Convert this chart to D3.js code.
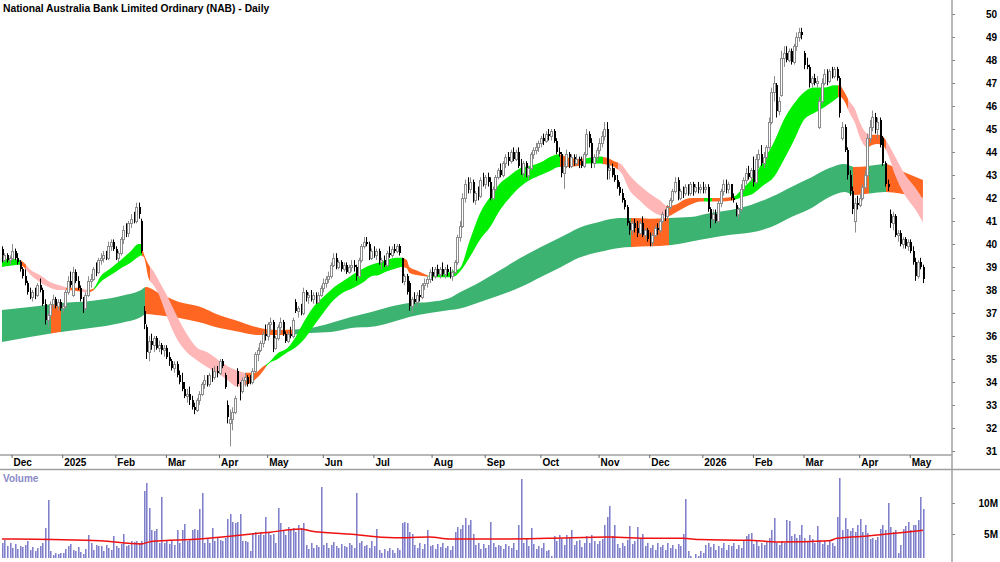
<!DOCTYPE html>
<meta charset="utf-8">
<script src="https://d3js.org/d3.v7.min.js"></script>
<style>
  body { margin: 0; background: #fff; }
  text { font-family: "Liberation Sans", Arial, sans-serif; font-weight: bold; }
</style>
<div id="chart"></div>
<script>
// ---- trading calendar (ASX sessions) ----
const firstDay = "2024-11-26", lastDay = "2026-05-08";
const holidays = ["2024-12-25", "2024-12-26", "2025-01-01", "2025-01-27", "2025-04-18", "2025-04-21",
  "2025-04-25", "2025-06-09", "2025-12-25", "2025-12-26", "2026-01-01", "2026-01-26", "2026-04-03", "2026-04-06"];

// ---- daily candles per month: [open, high, low, close, volume (millions)] ----
const nov2024 = [[39.8,39.9,39.2,39.3,3.5],[39.3,39.6,39.2,39.5,4.0],[39.5,39.6,39.2,39.3,3.0],[39.3,39.5,39.1,39.4,3.6]];
const dec2024 = [[39.4,40.0,39.3,39.7,2.8],[39.7,39.8,39.3,39.4,3.4],[39.4,39.6,39.1,39.2,2.6],[39.2,39.3,38.8,38.9,3.1],
  [38.9,39.0,38.5,38.6,2.9],[38.6,38.9,38.2,38.3,3.2],[38.3,38.4,37.8,37.9,3.8],[37.9,38.1,37.6,37.7,2.4],
  [37.7,38.0,37.5,37.9,2.9],[37.9,38.1,37.6,37.8,2.2],[37.8,38.3,37.7,38.2,2.7],[38.2,38.5,37.9,38.0,3.0],
  [38.0,38.1,37.3,37.4,3.5],[37.4,37.6,36.5,36.7,6.0],[36.7,37.0,36.4,36.9,10.5],[36.9,37.5,36.8,37.4,2.2],
  [37.4,37.8,37.2,37.6,1.6],[37.6,37.7,37.2,37.3,1.9],[37.3,37.6,37.1,37.5,1.7],[37.5,37.6,37.1,37.2,1.9]];
const jan2025 = [[37.2,37.4,37.0,37.3,2.0],[37.3,38.0,37.2,37.9,2.6],[37.9,38.6,37.8,38.4,3.0],[38.4,38.8,38.1,38.2,3.4],
  [37.8,39.0,37.7,38.8,2.5],[38.8,38.9,38.3,38.4,2.2],[38.4,38.6,38.0,38.1,2.9],[38.1,38.2,37.5,37.6,2.1],
  [37.6,37.7,37.0,37.2,1.8],[37.2,37.9,37.1,37.8,2.6],[37.8,38.6,37.7,38.4,4.8],[38.4,38.7,38.1,38.5,3.6],
  [38.5,39.0,38.4,38.9,2.4],[38.9,39.2,38.6,38.8,3.2],[38.8,39.4,38.7,39.3,3.0],[39.3,39.6,39.1,39.4,3.1],
  [39.4,39.7,39.2,39.5,2.2],[39.5,39.7,39.3,39.4,3.3],[39.4,40.1,39.3,39.9,2.8],[39.9,40.2,39.7,40.1,2.5],
  [40.1,40.2,39.7,39.8,4.6]];
const feb2025 = [[39.8,39.9,39.3,39.4,3.0],[39.4,39.7,39.2,39.6,2.7],[39.6,40.3,39.5,40.2,3.4],[40.2,40.8,40.0,40.6,5.0],
  [40.6,40.9,40.3,40.5,3.0],[40.5,41.0,40.3,40.9,3.3],[40.9,41.3,40.7,41.1,3.9],[41.1,41.4,40.9,41.0,3.7],
  [41.0,41.8,40.9,41.6,3.8],[41.6,41.8,41.1,41.3,3.5],[41.0,41.1,39.6,39.7,3.9],[37.1,37.3,36.3,36.5,12.0],
  [36.4,36.5,35.0,35.3,13.2],[35.3,36.0,34.9,35.8,9.2],[35.8,36.1,35.4,35.6,5.6],[35.6,36.0,35.3,35.9,5.5],
  [35.9,36.0,35.4,35.5,5.8],[35.5,35.8,35.3,35.6,3.5],[35.6,35.7,35.2,35.4,11.0],[35.4,35.6,35.1,35.5,3.6]];
const mar2025 = [[35.5,35.6,35.0,35.1,3.8],[35.1,35.3,34.7,34.9,3.4],[34.9,35.0,34.5,34.6,4.0],[34.6,34.9,34.4,34.8,3.2],
  [34.8,34.9,34.2,34.3,5.6],[34.3,34.5,33.9,34.0,3.6],[34.0,34.4,33.6,33.7,5.6],[33.7,34.0,33.3,33.4,6.6],
  [33.4,33.7,33.1,33.5,3.8],[33.5,33.8,33.0,33.2,4.2],[33.2,33.4,32.8,32.9,5.6],[32.9,33.1,32.6,32.8,5.8],
  [32.8,33.3,32.7,33.2,5.7],[33.2,33.6,33.0,33.5,9.0],[33.5,34.0,33.4,33.9,11.6],[33.9,34.3,33.7,34.1,3.6],
  [34.1,34.3,33.8,33.9,4.2],[33.9,34.4,33.8,34.3,3.5],[34.3,34.6,34.0,34.2,5.9],[34.2,34.7,34.1,34.5,3.9],
  [34.5,34.7,34.2,34.4,4.3]];
const apr2025 = [[34.4,35.0,34.3,34.9,4.0],[34.9,35.0,34.6,34.7,3.8],[34.3,34.4,33.7,33.8,4.4],[33.0,33.2,32.2,32.5,7.4],
  [32.2,32.8,31.2,32.4,8.3],[32.4,32.9,31.9,32.7,6.9],[32.7,33.4,32.6,33.3,6.7],[34.5,34.6,33.8,33.9,7.0],
  [33.9,34.0,33.2,33.6,8.2],[33.6,34.2,33.5,34.1,3.8],[34.1,34.4,33.8,34.2,3.9],[34.2,34.3,33.8,33.9,3.7],
  [34.2,34.3,33.9,34.0,2.2],[34.0,34.6,33.9,34.5,5.2],[34.5,35.3,34.4,35.2,5.3],[35.2,35.5,34.9,35.4,4.9],
  [35.4,35.8,35.3,35.7,5.3],[35.7,36.2,35.5,36.1,4.8],[36.1,36.5,35.8,36.0,7.7]];
const may2025 = [[36.0,36.6,35.8,36.5,5.2],[36.5,36.8,36.2,36.6,4.8],[36.6,36.7,35.3,35.5,5.0],[35.5,36.0,35.4,35.9,3.6],
  [35.9,36.5,35.8,36.4,9.2],[36.4,36.8,36.1,36.6,6.7],[36.6,36.7,36.0,36.1,5.5],[36.1,36.2,35.7,35.8,4.8],
  [35.8,36.2,35.7,36.1,6.2],[36.1,36.4,35.9,36.0,5.6],[36.0,36.8,35.9,36.7,6.0],[37.5,37.6,37.0,37.1,5.4],
  [37.1,37.3,36.8,37.2,6.4],[37.2,37.4,36.9,37.0,5.9],[37.0,38.1,36.9,37.9,6.8],[37.9,38.0,37.5,37.7,3.2],
  [37.7,37.9,37.4,37.8,2.6],[37.8,38.0,37.5,37.6,3.5],[37.6,37.9,37.4,37.8,2.8],[37.8,37.9,37.4,37.5,3.3],
  [37.5,37.9,37.4,37.8,2.9],[37.8,38.2,37.7,38.1,12.6]];
const jun2025 = [[38.1,38.5,37.9,38.3,3.2],[38.3,38.6,38.1,38.5,3.6],[38.5,38.8,38.3,38.6,2.8],[38.6,39.2,38.5,39.1,3.3],
  [39.1,39.6,39.0,39.4,3.7],[39.4,39.6,38.9,39.0,3.0],[39.0,39.3,38.9,39.2,2.7],[39.2,39.3,38.8,38.9,3.4],
  [38.9,39.2,38.8,39.1,3.1],[39.1,39.2,38.7,38.8,2.9],[38.8,39.1,38.7,39.0,3.6],[39.0,39.3,38.8,39.1,3.2],
  [39.1,39.3,38.8,39.0,2.8],[39.0,39.1,38.4,38.6,11.6],[38.6,39.4,38.5,39.3,3.5],[39.3,40.0,39.2,39.9,3.9],
  [39.9,40.3,39.8,40.1,3.0],[40.1,40.3,39.9,40.0,3.3],[40.0,40.1,39.3,39.4,2.7],[39.4,39.8,39.3,39.7,3.8]];
const jul2025 = [[39.7,39.9,39.4,39.5,3.1],[39.5,39.8,39.3,39.7,5.8],[39.7,39.8,39.1,39.2,2.4],[39.2,39.4,38.9,39.3,1.9],
  [39.3,39.5,39.0,39.1,2.6],[39.1,39.7,39.0,39.6,2.2],[39.6,39.9,39.4,39.5,2.8],[39.5,39.9,39.4,39.8,2.5],
  [39.8,40.0,39.6,39.7,2.0],[39.7,40.0,39.6,39.9,2.7],[39.9,40.0,39.5,39.6,2.4],[39.4,39.4,38.3,38.4,6.8],
  [38.4,38.7,38.2,38.6,6.9],[38.6,38.7,37.8,37.9,6.7],[38.3,38.4,37.1,37.3,5.4],[37.3,37.7,37.0,37.6,5.0],
  [37.6,37.9,37.4,37.5,3.2],[37.5,37.9,37.3,37.8,2.8],[37.8,38.0,37.5,37.7,3.5],[37.7,38.3,37.6,38.2,2.6],
  [38.2,38.5,38.0,38.3,3.4],[38.3,38.6,38.1,38.5,5.6],[38.5,38.9,38.3,38.8,3.0]];
const aug2025 = [[38.8,39.0,38.4,38.6,3.3],[38.6,39.0,38.5,38.9,2.6],[38.9,39.1,38.6,38.7,3.4],[38.7,39.0,38.5,38.9,2.9],
  [38.9,39.2,38.6,38.7,3.6],[38.7,39.0,38.5,38.9,2.7],[38.9,39.1,38.6,38.8,3.1],[38.8,39.0,38.5,38.6,2.5],
  [38.6,38.9,38.4,38.8,3.0],[38.8,39.3,38.7,39.2,5.3],[39.2,40.4,39.1,40.3,6.2],[40.3,41.0,40.1,40.8,5.8],
  [40.8,42.2,40.7,42.0,6.5],[42.0,42.8,41.8,42.6,7.6],[42.6,42.9,42.2,42.4,6.4],[42.4,42.9,42.2,42.7,7.3],
  [42.7,42.8,41.8,41.9,5.0],[41.9,42.3,41.7,42.2,3.2],[42.2,42.5,41.9,42.1,3.6],[42.1,42.9,42.0,42.8,2.6],
  [42.8,43.1,42.5,42.6,3.4]];
const sep2025 = [[42.6,43.0,42.4,42.9,2.8],[42.9,43.1,42.5,42.7,3.3],[42.7,42.9,41.9,42.0,7.0],[42.0,42.5,41.9,42.4,3.6],
  [42.4,43.0,42.3,42.9,2.9],[42.9,43.3,42.8,43.2,3.2],[43.2,43.5,42.9,43.0,3.0],[43.0,43.6,42.9,43.5,2.6],
  [43.5,43.9,43.3,43.8,3.4],[43.8,44.0,43.4,43.6,3.1],[43.6,44.1,43.5,44.0,2.7],[44.0,44.2,43.6,43.7,3.5],
  [43.7,44.1,43.6,44.0,2.4],[44.0,44.2,43.3,43.4,6.4],[43.4,43.7,43.0,43.1,13.8],[43.1,43.6,42.9,43.5,3.6],
  [43.5,43.6,42.9,43.0,4.2],[43.0,43.4,42.8,43.3,3.0],[43.3,44.0,43.2,43.9,5.9],[43.9,44.2,43.7,44.1,3.4],
  [44.1,44.4,43.9,44.2,2.6],[44.2,44.5,44.0,44.4,3.1]];
const oct2025 = [[44.4,44.7,44.2,44.6,2.8],[44.6,44.8,44.3,44.5,3.6],[44.5,44.9,44.4,44.8,2.2],[44.8,45.0,44.5,44.7,2.5],
  [44.7,45.0,44.5,44.9,1.5],[44.9,45.0,44.4,44.5,4.7],[44.5,44.6,43.9,44.0,3.9],[44.0,44.2,43.8,43.9,4.9],
  [43.9,44.0,42.9,43.1,4.2],[43.1,43.6,42.4,43.4,3.3],[43.4,44.1,43.3,43.9,4.8],[43.9,44.0,43.3,43.4,4.4],
  [43.4,43.9,43.3,43.8,5.7],[43.8,43.9,43.4,43.5,3.3],[43.5,43.9,43.4,43.7,3.8],[43.7,43.8,43.3,43.6,4.0],
  [43.6,43.8,43.3,43.4,2.9],[43.4,44.0,43.3,43.9,3.6],[43.9,45.0,43.8,44.8,4.7],[44.8,44.9,44.2,44.4,3.5],
  [44.4,44.6,43.3,43.5,4.8],[43.5,43.9,43.3,43.8,3.9],[43.8,44.2,43.6,44.1,3.4]];
const nov2025 = [[44.1,44.6,43.9,44.4,3.8],[44.4,44.9,44.2,44.7,4.2],[44.7,45.3,44.5,45.0,6.5],[45.0,45.3,42.8,43.2,7.8],
  [43.2,43.5,42.8,43.3,9.5],[43.3,43.5,42.9,43.0,4.6],[43.0,43.3,42.7,42.8,6.4],[42.8,43.0,42.4,42.5,3.4],
  [42.5,42.7,42.1,42.2,2.8],[42.2,42.4,41.8,41.9,3.6],[41.9,42.0,41.5,41.6,3.0],[41.6,41.7,40.8,40.9,4.0],
  [40.9,41.0,40.4,40.6,6.3],[40.6,41.0,40.4,40.9,3.4],[40.9,41.1,40.5,40.7,3.9],[40.7,41.0,40.3,40.5,6.1],
  [40.5,41.0,40.4,40.9,4.3],[40.9,41.2,40.3,40.4,5.0],[40.4,40.7,40.2,40.6,3.1],[40.6,40.7,40.1,40.2,3.5]];
const dec2025 = [[40.2,40.5,39.9,40.1,2.7],[40.1,40.5,39.9,40.4,3.3],[40.4,40.8,40.3,40.7,2.5],[40.7,40.9,40.4,40.6,3.5],
  [40.6,41.1,40.5,41.0,2.9],[41.0,41.4,40.9,41.3,3.2],[41.3,41.5,41.0,41.2,2.4],[41.2,41.7,41.1,41.6,3.6],
  [41.6,42.0,41.5,41.9,2.8],[41.9,42.4,41.8,42.3,3.3],[42.3,42.9,42.2,42.7,2.6],[42.8,42.9,41.9,42.0,3.4],
  [42.0,42.4,41.9,42.3,3.0],[42.3,42.5,42.0,42.2,5.0],[42.2,42.6,42.1,42.5,10.7],[42.5,42.6,42.1,42.2,2.2],
  [42.2,42.7,42.1,42.6,1.4],[42.6,42.7,42.1,42.3,1.2],[42.3,42.6,42.2,42.5,1.8],[42.5,42.7,42.2,42.4,1.5],
  [42.4,42.6,42.2,42.5,2.3]];
const jan2026 = [[42.5,42.7,42.2,42.4,2.0],[42.4,42.6,42.2,42.5,3.3],[42.5,42.6,41.4,41.5,3.6],[41.5,41.6,40.7,41.1,2.9],
  [41.1,41.5,40.9,41.3,3.4],[41.3,41.5,40.9,41.0,2.5],[41.0,41.9,40.9,41.8,3.1],[41.8,42.4,41.6,42.3,2.7],
  [42.3,42.8,42.1,42.6,3.5],[42.6,42.8,42.2,42.4,2.4],[42.4,42.7,42.2,42.6,3.2],[42.6,42.6,41.9,42.0,3.0],
  [42.0,42.2,41.8,41.9,3.6],[41.7,41.8,41.2,41.3,2.6],[41.3,41.6,41.1,41.5,3.3],[41.5,42.6,41.4,42.4,2.8],
  [42.4,42.9,42.3,42.8,3.9],[42.8,43.3,42.6,43.1,4.7],[43.1,43.4,42.8,42.9,5.0],[42.9,43.3,42.7,43.2,5.2]];
const feb2026 = [[43.2,43.8,42.5,42.7,3.4],[42.7,43.9,42.6,43.7,3.8],[43.7,44.1,43.3,43.9,3.0],[43.9,44.3,43.4,43.5,3.6],
  [43.5,44.0,43.3,43.8,3.2],[43.8,44.3,43.7,44.2,3.9],[44.2,45.5,44.1,45.3,4.4],[45.3,46.8,45.2,46.6,5.7],
  [46.6,47.3,46.2,47.0,7.6],[46.9,47.0,45.5,45.8,3.6],[45.8,46.4,45.6,46.2,3.3],[46.5,48.4,46.4,48.1,3.9],
  [48.1,48.6,47.7,48.3,3.5],[48.3,48.6,47.9,48.0,7.2],[48.0,48.5,47.9,48.4,7.1],[48.4,48.5,47.8,47.9,4.6],
  [47.9,48.7,47.8,48.6,5.0],[48.6,49.2,48.4,49.0,4.3],[49.0,49.4,48.8,49.2,4.8],[49.2,49.4,48.9,49.1,6.5]];
const mar2026 = [[48.3,48.4,47.6,47.8,4.4],[47.8,48.1,47.6,47.7,3.9],[47.7,47.8,46.8,47.0,4.8],[47.0,47.3,46.8,47.2,4.2],
  [47.2,47.4,46.9,47.0,3.6],[47.0,47.3,46.8,47.1,6.3],[45.1,46.4,45.0,46.2,4.0],[46.2,47.2,46.1,47.0,3.4],
  [47.0,47.6,46.9,47.4,3.8],[47.4,47.6,46.9,47.1,3.2],[47.1,47.6,47.0,47.5,4.0],[47.5,47.7,47.2,47.3,3.5],
  [47.3,47.7,47.2,47.6,3.0],[47.6,47.7,47.1,47.2,7.8],[47.2,47.3,45.5,45.7,14.1],[44.6,45.3,44.5,45.1,5.6],
  [45.1,45.2,44.0,44.1,7.6],[44.1,44.2,42.8,43.0,5.8],[43.0,43.2,42.1,42.3,5.5],[42.3,42.5,41.3,41.5,6.0],
  [41.0,42.0,40.5,41.8,5.4],[41.8,42.1,41.5,41.7,6.4]];
const apr2026 = [[41.7,42.2,41.6,42.0,7.5],[42.0,42.6,41.9,42.5,5.3],[42.5,43.2,42.4,43.0,6.4],[43.0,44.8,42.9,44.6,5.1],
  [44.6,45.4,44.4,45.1,4.2],[45.1,45.8,44.9,45.5,4.3],[45.5,45.7,44.8,45.0,4.0],[45.0,45.5,44.6,45.3,4.5],
  [45.4,45.5,44.2,44.3,5.8],[44.6,44.7,43.4,43.5,6.5],[43.5,43.6,42.5,42.6,5.6],[42.6,42.8,42.3,42.5,10.0],
  [41.3,41.5,40.7,40.9,6.2],[40.9,41.4,40.6,41.2,5.4],[41.2,41.3,40.3,40.4,5.7],[40.4,40.6,40.1,40.5,2.0],
  [40.5,40.6,39.9,40.0,3.2],[40.0,40.3,39.8,40.2,5.8],[40.2,40.3,39.8,39.9,6.3],[39.9,40.2,39.7,40.1,7.0]];
const may2026 = [[40.1,40.2,39.6,39.7,5.6],[39.7,39.9,39.1,39.2,6.4],[39.2,39.4,38.4,38.6,6.4],[38.6,39.3,38.5,39.2,7.2],
  [39.2,39.4,38.9,39.0,10.9],[39.0,39.1,38.3,38.5,9.0]];

// ---- short-term moving average ribbon: [date, upper, lower] ----
const shortRibbon = [["2024-11-26",39.35,39.0],["2024-11-29",39.35,39.05],["2024-12-05",39.3,39.1],["2024-12-09",39.15,38.95],
  ["2024-12-11",38.9,38.7],["2024-12-17",38.65,38.35],["2024-12-23",38.35,38.1],["2024-12-31",38.2,38.0],
  ["2025-01-06",38.1,38.0],["2025-01-10",38.1,37.95],["2025-01-16",38.0,37.9],["2025-01-20",38.05,37.98],
  ["2025-01-23",38.6,38.35],["2025-01-30",38.95,38.65],["2025-02-05",39.3,38.95],["2025-02-11",39.7,39.2],
  ["2025-02-14",40.0,39.45],["2025-02-17",40.0,39.5],["2025-02-18",39.6,39.45],["2025-02-20",39.1,38.5],
  ["2025-02-24",38.8,38.2],["2025-02-26",38.4,37.8],["2025-03-03",37.8,36.9],["2025-03-07",36.9,35.9],
  ["2025-03-13",36.1,35.3],["2025-03-19",35.5,34.95],["2025-03-25",35.3,34.65],["2025-03-31",35.0,34.4],
  ["2025-04-04",34.7,34.1],["2025-04-10",34.5,33.8],["2025-04-16",34.4,33.9],["2025-04-23",34.4,34.1],
  ["2025-04-29",34.65,34.45],["2025-05-01",34.8,34.75],["2025-05-07",35.25,35.0],["2025-05-13",35.5,35.3],
  ["2025-05-16",35.95,35.5],["2025-05-21",36.55,35.8],["2025-05-27",37.25,36.4],["2025-06-02",37.7,37.0],
  ["2025-06-06",38.1,37.55],["2025-06-13",38.4,37.9],["2025-06-19",38.7,38.1],["2025-06-25",38.95,38.35],
  ["2025-06-30",39.1,38.6],["2025-07-03",39.2,38.65],["2025-07-08",39.3,38.8],["2025-07-14",39.4,38.95],
  ["2025-07-16",39.4,39.0],["2025-07-18",39.3,38.95],["2025-07-21",39.0,38.75],["2025-07-24",38.85,38.65],
  ["2025-07-29",38.7,38.6],["2025-07-31",38.62,38.58],["2025-08-05",38.7,38.55],["2025-08-11",38.75,38.55],
  ["2025-08-14",38.85,38.6],["2025-08-18",38.95,38.8],["2025-08-22",40.2,39.45],["2025-08-28",41.35,40.2],
  ["2025-09-03",42.05,40.75],["2025-09-09",42.65,41.5],["2025-09-15",43.0,42.05],["2025-09-19",43.3,42.5],
  ["2025-09-25",43.4,42.8],["2025-10-01",43.55,43.0],["2025-10-07",43.8,43.2],["2025-10-10",43.9,43.35],
  ["2025-10-16",43.75,43.35],["2025-10-22",43.7,43.4],["2025-10-28",43.75,43.5],["2025-11-03",43.8,43.5],
  ["2025-11-06",43.75,43.45],["2025-11-11",43.6,43.35],["2025-11-14",43.45,43.05],["2025-11-19",43.0,42.35],
  ["2025-11-25",42.55,41.9],["2025-12-01",42.2,41.5],["2025-12-05",41.9,41.25],["2025-12-10",41.65,41.2],
  ["2025-12-15",41.7,41.35],["2025-12-19",41.95,41.6],["2025-12-24",42.0,41.75],["2025-12-31",42.0,41.85],
  ["2026-01-07",42.0,41.85],["2026-01-14",42.0,41.85],["2026-01-20",42.05,41.9],["2026-01-27",42.45,42.05],
  ["2026-02-02",42.9,42.2],["2026-02-06",43.65,42.55],["2026-02-12",44.4,42.9],["2026-02-18",45.4,43.65],
  ["2026-02-24",46.1,44.5],["2026-03-02",46.6,45.4],["2026-03-06",46.8,45.7],["2026-03-12",46.8,45.95],
  ["2026-03-18",46.9,46.25],["2026-03-20",46.9,46.4],["2026-03-24",46.6,46.2],["2026-03-26",46.2,45.7],
  ["2026-03-30",45.9,45.3],["2026-04-01",45.3,44.65],["2026-04-08",44.8,44.2],["2026-04-10",44.75,44.3],
  ["2026-04-14",44.75,44.35],["2026-04-16",44.7,44.3],["2026-04-20",44.4,43.95],["2026-04-23",43.8,43.0],
  ["2026-04-29",43.0,42.1],["2026-05-05",42.45,41.5],["2026-05-08",41.95,40.95]];

// ---- long-term moving average ribbon: [date, upper, lower] ----
const longRibbon = [["2024-11-26",37.13,35.74],["2024-12-11",37.26,35.96],["2024-12-31",37.43,36.17],["2025-01-17",37.52,36.35],
  ["2025-02-05",37.74,36.57],["2025-02-17",38.0,36.83],["2025-02-19",38.13,36.96],["2025-02-26",37.87,36.9],
  ["2025-03-10",37.48,36.78],["2025-03-20",37.28,36.6],["2025-04-01",36.9,36.35],["2025-04-09",36.7,36.22],
  ["2025-04-28",36.35,36.04],["2025-05-08",36.26,36.04],["2025-05-15",36.28,36.06],["2025-05-26",36.35,36.13],
  ["2025-06-05",36.57,36.17],["2025-06-18",36.83,36.35],["2025-06-30",37.04,36.4],["2025-07-09",37.26,36.57],
  ["2025-07-21",37.43,36.83],["2025-07-31",37.48,37.0],["2025-08-12",37.65,37.13],["2025-08-18",37.9,37.2],
  ["2025-08-28",38.35,37.48],["2025-09-09",38.87,37.78],["2025-09-19",39.4,38.13],["2025-10-01",39.87,38.57],
  ["2025-10-13",40.3,39.0],["2025-10-22",40.7,39.4],["2025-11-03",40.96,39.65],["2025-11-13",41.13,39.83],
  ["2025-11-20",41.13,39.87],["2025-12-01",41.1,39.9],["2025-12-11",41.13,39.95],["2025-12-23",41.17,40.1],
  ["2026-01-07",41.35,40.26],["2026-01-19",41.48,40.4],["2026-01-30",41.7,40.5],["2026-02-11",42.04,40.74],
  ["2026-02-23",42.48,41.17],["2026-03-05",42.9,41.56],["2026-03-16",43.3,42.04],["2026-03-24",43.48,42.26],
  ["2026-03-30",43.35,42.13],["2026-04-09",43.4,42.2],["2026-04-17",43.48,42.26],["2026-04-27",43.2,42.2],
  ["2026-05-08",42.78,42.0]];

// ---- ribbon state changes: [first session, state] ----
const shortStates = [["2024-11-26","up"],["2024-12-06","turn"],["2024-12-10","down"],["2025-01-06","turn"],
  ["2025-01-14","down"],["2025-01-17","turn"],["2025-01-21","up"],["2025-02-18","turn"],["2025-02-21","down"],
  ["2025-04-16","turn"],["2025-05-01","up"],["2025-07-17","turn"],["2025-07-31","up"],["2025-10-13","turn"],
  ["2025-10-24","up"],["2025-11-05","turn"],["2025-11-13","down"],["2025-12-10","turn"],["2026-01-05","up"],
  ["2026-01-08","turn"],["2026-01-21","up"],["2026-03-20","turn"],["2026-03-26","down"],["2026-04-09","turn"],
  ["2026-04-20","down"]];
const longStates = [["2024-11-26","up"],["2024-12-24","down"],["2025-01-02","up"],["2025-02-19","down"],
  ["2025-05-16","up"],["2025-11-20","down"],["2025-12-11","up"],["2026-03-30","down"],["2026-04-09","up"],
  ["2026-04-20","down"]];

// ---- volume moving average (millions) ----
const volumeAverage = [["2024-11-26",4.2],["2024-12-24",4.1],["2025-01-23",3.9],["2025-02-17",3.4],["2025-02-21",3.8],
  ["2025-03-20",4.2],["2025-04-11",4.8],["2025-05-02",5.3],["2025-05-20",5.8],["2025-05-26",5.5],["2025-06-17",5.0],
  ["2025-07-11",4.4],["2025-07-31",4.5],["2025-08-12",4.2],["2025-09-09",4.2],["2025-10-06",4.3],["2025-11-07",4.5],
  ["2025-12-01",4.3],["2025-12-18",4.3],["2025-12-31",4.1],["2026-01-29",4.0],["2026-02-16",3.7],["2026-03-16",3.9],
  ["2026-03-19",4.3],["2026-04-09",4.7],["2026-04-27",5.2],["2026-05-08",5.6]];

const priceTicks = d3.range(31, 51);
const volumeTicks = [5, 10];
const title = "National Australia Bank Limited Ordinary (NAB) - Daily";

// colours
const shortColours = {up: "#00ee00", down: "#ffb6b6", turn: "#ff6622"};
const longColours = {up: "#3cb371", down: "#ff6622"};

// ---- layout ----
const W = 1000, H = 562;
const axisX = 952, priceBottom = 455, volumeTop = 469.5, volumeBase = 558;

const svg = d3.select("#chart").append("svg")
    .attr("width", W)
    .attr("height", H);
const defs = svg.append("defs");

// trading sessions between first and last day
const fmt = d3.utcFormat("%Y-%m-%d"), parse = d3.utcParse("%Y-%m-%d");
const days = d3.utcDay.range(parse(firstDay), d3.utcDay.offset(parse(lastDay), 1))
    .filter(d => d.getUTCDay() % 6 !== 0)
    .map(fmt)
    .filter(s => !holidays.includes(s));

const months = [nov2024, dec2024, jan2025, feb2025, mar2025, apr2025, may2025, jun2025, jul2025, aug2025,
  sep2025, oct2025, nov2025, dec2025, jan2026, feb2026, mar2026, apr2026, may2026];
const candles = months.flat().map((c, i) => ({
  day: days[i], open: c[0], high: c[1], low: c[2], close: c[3], volume: c[4]
}));

// scales
const x = d3.scaleBand().domain(days).range([0.7, 924.2]);
const cx = d => x(d) + x.bandwidth() / 2;
const y = d3.scaleLinear().domain([31, 50]).range([451, 14]);
const yVol = d3.scaleLinear().domain([0, 10]).range([565, 503]);

// ---- ribbons, coloured by state using clip rectangles ----
function drawRibbon(points, states, colours, id) {
  const area = d3.area()
      .x(d => cx(d[0]))
      .y0(d => y(d[2]))
      .y1(d => y(d[1]))
      .curve(d3.curveMonotoneX);
  states.forEach((s, i) => {
    const x0 = Math.round(x(s[0]));
    const x1 = i < states.length - 1 ? Math.round(x(states[i + 1][0])) : axisX;
    defs.append("clipPath").attr("id", id + i)
      .append("rect")
        .attr("x", x0).attr("y", 0)
        .attr("width", x1 - x0).attr("height", priceBottom);
    svg.append("path")
        .datum(points)
        .attr("d", area)
        .attr("fill", colours[s[1]])
        .attr("clip-path", `url(#${id + i})`);
  });
}
drawRibbon(longRibbon, longStates, longColours, "long");
drawRibbon(shortRibbon, shortStates, shortColours, "short");

// ---- candles ----
const cg = svg.append("g");
candles.forEach(d => {
  const c = Math.round(cx(d.day));
  const up = d.close >= d.open;
  cg.append("line")
      .attr("x1", c + 0.5).attr("x2", c + 0.5)
      .attr("y1", y(d.high)).attr("y2", y(d.low))
      .attr("stroke", up ? "#8c8c8c" : "#000");
  const top = Math.round(y(Math.max(d.open, d.close)));
  const h = Math.max(1, Math.round(y(Math.min(d.open, d.close))) - top);
  if (up) {
    cg.append("rect")
        .attr("x", c - 0.5).attr("y", top + 0.5)
        .attr("width", 2).attr("height", h)
        .attr("fill", "#fff").attr("stroke", "#8c8c8c");
  } else {
    cg.append("rect")
        .attr("x", c).attr("y", top)
        .attr("width", 2).attr("height", h)
        .attr("fill", "#000");
  }
});

// ---- frame lines ----
svg.append("line").attr("x1", 0).attr("x2", axisX).attr("y1", priceBottom).attr("y2", priceBottom)
    .attr("stroke", "#a0a0a0").attr("stroke-width", 1.3);
svg.append("line").attr("x1", 0).attr("x2", W).attr("y1", volumeTop).attr("y2", volumeTop)
    .attr("stroke", "#a0a0a0").attr("stroke-width", 1.3);
svg.append("line").attr("x1", axisX).attr("x2", axisX).attr("y1", 0).attr("y2", H)
    .attr("stroke", "#a0a0a0").attr("stroke-width", 1.5);

// ---- x axis (first session of each month) ----
const monthStarts = days.filter((d, i) => i > 0 && d.slice(5, 7) !== days[i - 1].slice(5, 7));
const xAxis = svg.append("g")
    .attr("transform", `translate(0,${priceBottom})`)
    .call(d3.axisBottom(x).tickValues(monthStarts).tickSize(3)
      .tickFormat(d => d.slice(5, 7) === "01" ? d.slice(0, 4) : d3.utcFormat("%b")(parse(d))));
xAxis.select(".domain").remove();
xAxis.selectAll(".tick line").attr("stroke", "#666");
xAxis.selectAll(".tick text")
    .attr("text-anchor", "start")
    .attr("x", 1.5).attr("y", 4)
    .attr("font-size", 10).attr("font-family", null).attr("fill", "#000");

// ---- price axis ----
const yAxis = svg.append("g")
    .attr("transform", `translate(${axisX},0)`)
    .call(d3.axisRight(y).tickValues(priceTicks).tickSize(3));
yAxis.select(".domain").remove();
yAxis.selectAll(".tick line").attr("stroke", "#888");
yAxis.selectAll(".tick text")
    .attr("text-anchor", "end").attr("x", 45)
    .attr("font-size", 10).attr("font-family", null).attr("fill", "#000");

// ---- volume: light bars with a darker left edge ----
const vg = svg.append("g");
candles.forEach(d => {
  const top = Math.round(yVol(d.volume));
  if (top >= volumeBase) return;
  const c = Math.round(cx(d.day));
  vg.append("rect")
      .attr("x", c).attr("y", top)
      .attr("width", 2).attr("height", volumeBase - top)
      .attr("fill", "#b8b8e6");
  vg.append("rect")
      .attr("x", c).attr("y", top)
      .attr("width", 1).attr("height", volumeBase - top)
      .attr("fill", "#8080c8");
});
svg.append("path")
    .datum(volumeAverage)
    .attr("d", d3.line().x(d => cx(d[0])).y(d => yVol(d[1])).curve(d3.curveMonotoneX))
    .attr("fill", "none")
    .attr("stroke", "#ee1111")
    .attr("stroke-width", 1.5);

const vAxis = svg.append("g")
    .attr("transform", `translate(${axisX},0)`)
    .call(d3.axisRight(yVol).tickValues(volumeTicks).tickSize(3).tickFormat(d => d + "M"));
vAxis.select(".domain").remove();
vAxis.selectAll(".tick line").attr("stroke", "#888");
vAxis.selectAll(".tick text")
    .attr("text-anchor", "end").attr("x", 46)
    .attr("font-size", 10).attr("font-family", null).attr("fill", "#000");

svg.append("text").attr("x", 3).attr("y", 482)
    .attr("font-size", 10).attr("fill", "#8a8ac8")
    .text("Volume");

// ---- title ----
svg.append("text").attr("x", 3).attr("y", 11.5)
    .attr("font-size", 10.3).attr("fill", "#000")
    .text(title);
</script>
